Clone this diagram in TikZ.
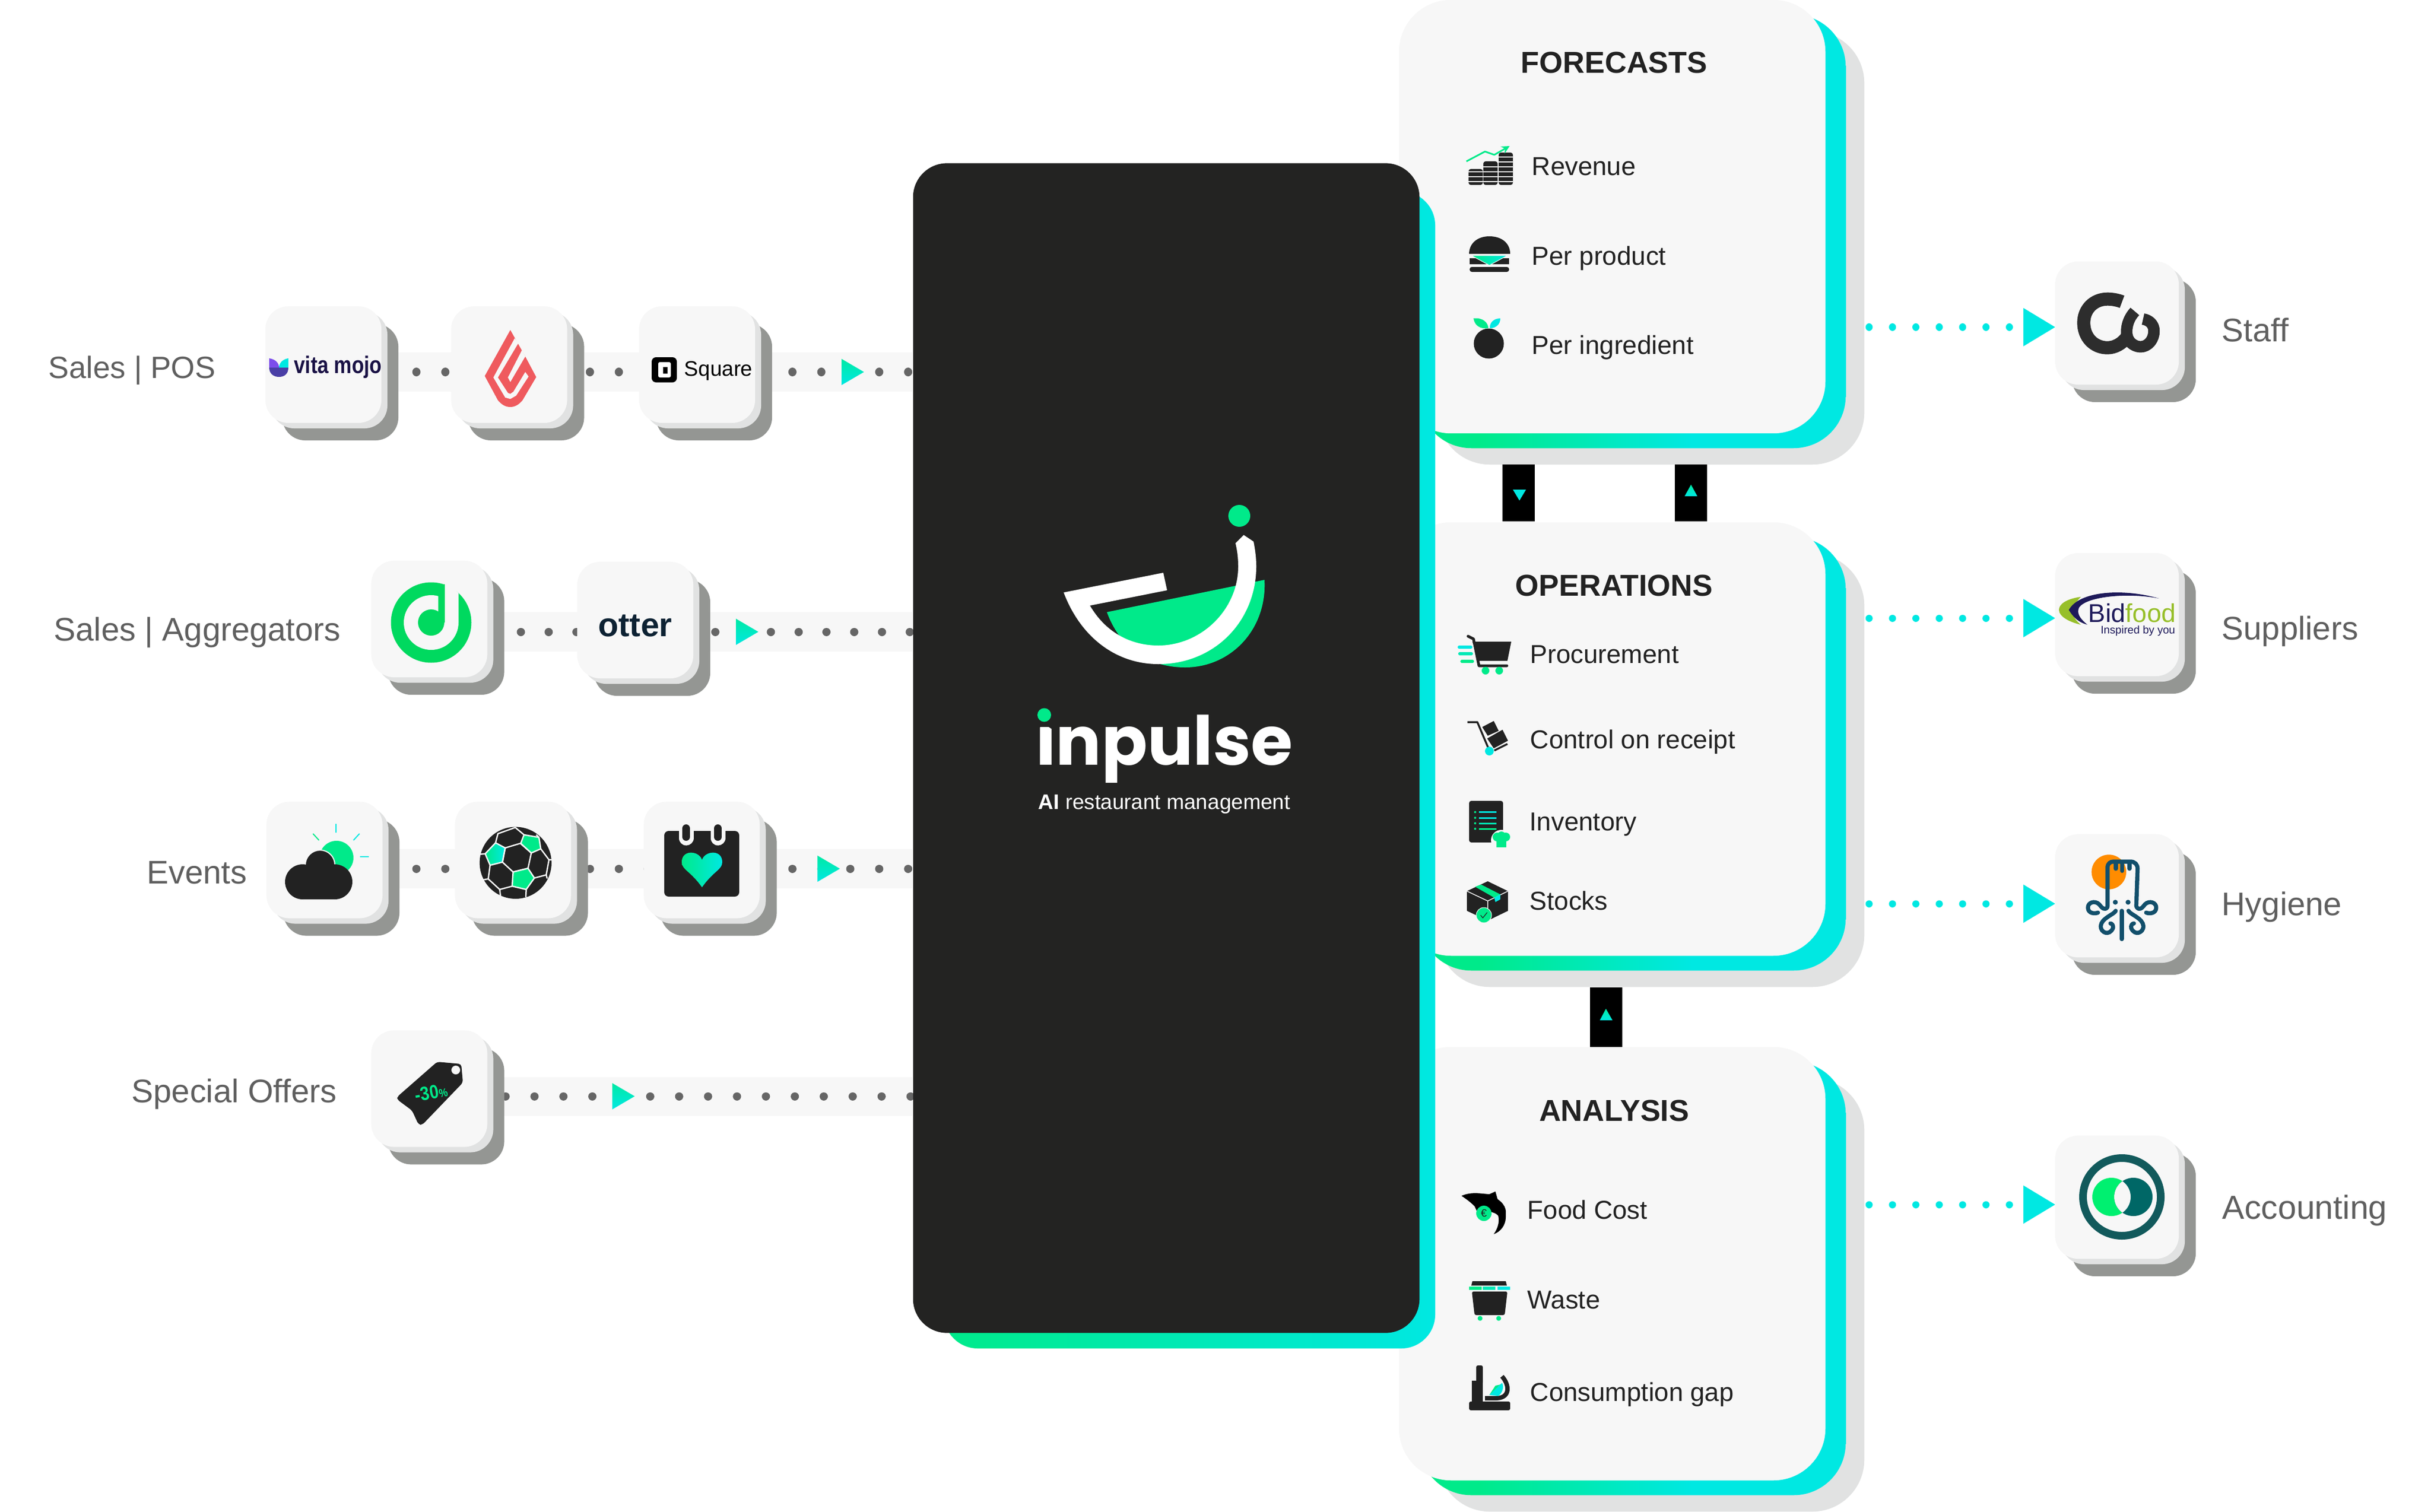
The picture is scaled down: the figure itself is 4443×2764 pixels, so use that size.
\documentclass[tikz,border=0pt]{standalone}
\usepackage{fontspec}
\setmainfont{Liberation Sans}
\newfontfamily\logofont{Poppins}
\usetikzlibrary{shadows}
\definecolor{accentgreen}{HTML}{00EA8A}
\definecolor{accentcyan}{HTML}{00E8E2}
\definecolor{ink}{HTML}{222222}
\definecolor{panelink}{HTML}{232322}
\definecolor{labelgrey}{HTML}{5F5F5F}
\definecolor{cardfill}{HTML}{F7F7F7}
\definecolor{cardgrey}{HTML}{E1E2E2}
\definecolor{tiledark}{HTML}{949693}
\definecolor{dotgrey}{HTML}{666666}
\definecolor{bidlime}{HTML}{97BF2A}
\definecolor{bidnavy}{HTML}{1E1A5A}
\definecolor{octoteal}{HTML}{124F6B}
\definecolor{roogreen}{HTML}{00D95F}
\definecolor{flamered}{HTML}{EF5A5E}
\definecolor{ringteal}{HTML}{125A5C}
\definecolor{lensteal}{HTML}{006766}
\definecolor{lensgreen}{HTML}{00F070}
\definecolor{vitanavy}{HTML}{1A1245}
\definecolor{vitaviolet}{HTML}{7C4DEB}
\definecolor{vitablue}{HTML}{4A3FA6}
\definecolor{otternavy}{HTML}{0D2233}
\pgfdeclarelayer{links}
\pgfsetlayers{links,main}
\pgfdeclarehorizontalshading{cardfade}{100bp}{color(0bp)=(accentgreen); color(32bp)=(accentgreen); color(57bp)=(accentcyan); color(100bp)=(accentcyan)}
\tikzset{
  tilebox/.style={minimum width=2.12cm, minimum height=2.13cm, inner sep=0pt, rounded corners=0.42cm, fill=cardfill,
    general shadow={fill=tiledark, shadow xshift=0.31cm, shadow yshift=-0.32cm},
    general shadow={fill=cardgrey, shadow xshift=0.11cm, shadow yshift=-0.10cm}},
  bigtile/.style={tilebox, minimum width=2.26cm, minimum height=2.25cm},
  cardbox/.style={minimum width=7.79cm, minimum height=7.92cm, inner sep=0pt, rounded corners=0.95cm, fill=cardfill,
    general shadow={fill=cardgrey, shadow xshift=0.71cm, shadow yshift=-0.57cm},
    general shadow={shading=cardfade, shadow xshift=0.37cm, shadow yshift=-0.27cm}},
  flowband/.style={cardfill, line width=0.71cm},
  flowdots/.style={dotgrey, line width=0.15cm, line cap=round, dash pattern=on 0.01pt off 0.528cm},
  staffdots/.style={accentcyan, line width=0.13cm, line cap=round, dash pattern=on 0.01pt off 0.4267cm},
  tipfade/.style={top color=accentgreen!70!accentcyan, bottom color=accentcyan},
  linkbox/.style={minimum width=0.59cm, inner sep=0pt, fill=black},
  rowlabel/.style={anchor=base west, inner sep=0pt, text=labelgrey, font=\fontsize{17}{20}\selectfont},
  cardtitle/.style={inner sep=0pt, text=ink, font=\bfseries\fontsize{15.7}{18}\selectfont},
  itemlabel/.style={anchor=base west, inner sep=0pt, text=ink, font=\fontsize{13.5}{16}\selectfont},
  ballline/.style={cardfill, line width=0.025cm},
  octoline/.style={octoteal, line width=0.075cm, line cap=round},
}
\begin{document}
\begin{tikzpicture}[x=0.01cm, y=-0.01cm, line join=round, >=stealth]
  \useasboundingbox (0,0) rectangle (4443,2764);
  % cards on the right
  \node[cardbox] (forecasts) at (2946.5,396) {};
  \node[cardbox] (operations) at (2946.5,1351) {};
  \node[cardbox] (analysis) at (2946.5,2310) {};
  \node[linkbox, minimum height=1.04cm] (boxdown) at (2775.5,901) {};
  \node[linkbox, minimum height=1.04cm] (boxup) at (3090.5,901) {};
  \node[linkbox, minimum height=1.09cm] (boxlow) at (2935,1859.5) {};
  \fill[accentcyan] (2765,895) -- (2789,895) -- (2777,915) -- cycle;
  \shade[tipfade] (3079,907) -- (3102,907) -- (3090.5,886) -- cycle;
  \shade[tipfade] (2924,1865) -- (2947,1865) -- (2935,1844) -- cycle;
  % main panel
  \shade[left color=accentgreen, right color=accentcyan, rounded corners=0.62cm] (1725,350) rectangle (2623,2465);
  \node[minimum width=9.25cm, minimum height=21.37cm, inner sep=0pt, rounded corners=0.62cm, fill=panelink] (panel) at (2131.5,1367.5) {};
  % logo
  \fill[accentgreen] (2265,943) circle (20);
  \fill[accentgreen] (2023,1119) -- (2311,1060) .. controls (2316,1150) and (2250,1220) .. (2166,1220) .. controls (2095,1220) and (2045,1180) .. (2023,1119) -- cycle;
  \fill[white] (1944,1083) .. controls (1975,1165) and (2040,1214) .. (2117,1214) .. controls (2220,1214) and (2296,1135) .. (2296,1035) .. controls (2296,1020) and (2294,1005) .. (2291,990) -- (2273,978) -- (2258,993) .. controls (2261,1005) and (2263,1020) .. (2263,1035) .. controls (2263,1115) and (2195,1180) .. (2117,1180) .. controls (2065,1180) and (2020,1155) .. (1992,1107) -- (2133,1079) -- (2126,1047) -- cycle;
  \node[anchor=base, inner sep=0pt, text=white, font=\logofont\bfseries\fontsize{35.2}{40}\selectfont] (brand) at (2128,1398) {inpulse};
  \fill[panelink] (1890,1288) rectangle (1930,1325);
  \fill[panelink] (1892,1324) -- (1909,1324) -- (1892,1335) -- cycle (1926,1324) -- (1909,1324) -- (1926,1335) -- cycle;
  \fill[accentgreen] (1908.5,1307) circle (12.5);
  \node[anchor=base, inner sep=0pt, text=white, font=\fontsize{11}{13}\selectfont] (tagline) at (2128,1479) {\textbf{AI} restaurant management};
  % titles and items
  \node[cardtitle] (forecaststitle) at (2950,115) {FORECASTS};
  \node[cardtitle] (operationstitle) at (2950,1070) {OPERATIONS};
  \node[cardtitle] (analysistitle) at (2950,2030) {ANALYSIS};
  \node[itemlabel] (revenue) at (2799,321) {Revenue};
  \node[itemlabel] (perproduct) at (2799,485) {Per product};
  \node[itemlabel] (peringredient) at (2799,647) {Per ingredient};
  \node[itemlabel] (procurement) at (2796,1212) {Procurement};
  \node[itemlabel] (control) at (2796,1368) {Control on receipt};
  \node[itemlabel] (inventory) at (2795,1518) {Inventory};
  \node[itemlabel] (stocks) at (2795,1663) {Stocks};
  \node[itemlabel] (foodcost) at (2791,2228) {Food Cost};
  \node[itemlabel] (waste) at (2791,2392) {Waste};
  \node[itemlabel] (gap) at (2796,2561) {Consumption gap};
  % card icons
  \foreach \sx/\sy/\sn in {2684/309/2,2711/295/3,2739/279/5} {
    \fill[ink, rounded corners=0.04cm] (\sx,\sy) rectangle (\sx+26,338);
    \foreach \ly in {0,...,\sn}
      \draw[cardfill, line width=0.02cm] (\sx,332-9*\ly) -- (\sx+26,332-9*\ly);
  }
  \draw[->, accentgreen, line width=0.03cm] (2680,295) -- (2714,277) -- (2731,283) -- (2759,267);
  \fill[ink] (2685,464) .. controls (2685,445) and (2700,432) .. (2722,432) .. controls (2745,432) and (2760,445) .. (2760,464) -- cycle;
  \fill[ink] (2686,472) rectangle (2758,483);
  \fill[ink, rounded corners=0.04cm] (2686,488) rectangle (2758,497);
  \shade[left color=accentgreen, right color=accentcyan, draw=cardfill, line width=0.01cm] (2689,467) -- (2755,467) -- (2722,485) -- cycle;
  \fill[ink] (2721,628) circle (27.5);
  \fill[accentgreen] (2693,582) .. controls (2710,580) and (2720,590) .. (2720,600) .. controls (2705,602) and (2695,595) .. (2693,582) -- cycle;
  \fill[accentcyan] (2742,582) .. controls (2730,582) and (2722,590) .. (2723,600) .. controls (2735,600) and (2742,592) .. (2742,582) -- cycle;
  \fill[ink] (2691,1173) -- (2762,1173) -- (2755,1208) -- (2703,1208) -- cycle;
  \draw[ink, line width=0.05cm, line cap=round] (2683,1163) -- (2693,1168) -- (2703,1217) -- (2754,1217);
  \fill[accentgreen] (2715,1226) circle (7) (2740,1226) circle (7);
  \draw[accentcyan, line width=0.06cm, line cap=round] (2667,1183) -- (2688,1183);
  \draw[accentcyan!50!accentgreen, line width=0.06cm, line cap=round] (2668,1195) -- (2689,1195);
  \draw[accentgreen, line width=0.06cm, line cap=round] (2672,1209) -- (2691,1209);
  \draw[ink, line width=0.035cm] (2682,1320) -- (2700,1320) -- (2722,1372);
  \fill[ink] (2709,1329) -- (2730,1318) -- (2739,1336) -- (2719,1345) -- cycle;
  \fill[ink] (2718,1350) -- (2746,1334) -- (2756,1354) -- (2730,1368) -- cycle;
  \draw[ink, line width=0.035cm] (2731,1372) -- (2755,1360);
  \fill[accentcyan] (2722,1373) circle (8);
  \fill[ink, rounded corners=0.04cm] (2685,1464) rectangle (2747,1540);
  \foreach \ly/\lc in {1484.5/accentcyan,1495/accentcyan,1505/accentcyan!50!accentgreen,1515/accentgreen} {
    \draw[\lc, line width=0.03cm] (2703,\ly) -- (2735,\ly);
    \fill[accentgreen] (2696,\ly) circle (2);
  }
  \fill[cardfill] (2744,1536) circle (19);
  \fill[accentgreen] (2736,1530) circle (8) (2752,1530) circle (8) (2744,1528) circle (8);
  \fill[accentgreen] (2735,1532) rectangle (2753,1549);
  \fill[ink] (2719,1611) -- (2756,1629) -- (2756,1665) -- (2719,1683) -- (2681,1665) -- (2681,1629) -- cycle;
  \draw[cardfill, line width=0.015cm] (2681,1629) -- (2719,1647) -- (2756,1629) (2719,1647) -- (2719,1683);
  \fill[accentgreen] (2696,1621) -- (2707,1617) -- (2742,1635) -- (2731,1641) -- cycle;
  \fill[accentcyan] (2731,1641) -- (2742,1635) -- (2742,1644) -- (2733,1649) -- cycle;
  \fill[accentgreen, draw=cardfill, line width=0.01cm] (2712,1673) circle (14);
  \draw[ink, line width=0.012cm] (2706,1673) -- (2710,1678) -- (2718,1668);
  \fill[black] (2671,2186) .. controls (2690,2178) and (2705,2182) .. (2722,2183) -- (2733,2178) -- (2737,2192) .. controls (2755,2205) and (2752,2215) .. (2752,2225) .. controls (2752,2240) and (2742,2252) .. (2730,2256) .. controls (2738,2245) and (2741,2232) .. (2738,2222) .. controls (2730,2214) and (2718,2214) .. (2700,2216) -- (2695,2205) .. controls (2688,2198) and (2680,2192) .. (2671,2186) -- cycle;
  \fill[accentgreen] (2712,2218) circle (14);
  \node[inner sep=0pt, text=ink, font=\fontsize{5.5}{6}\selectfont] (eurocoin) at (2712,2218) {€};
  \fill[ink] (2691,2342) -- (2752,2342) -- (2754,2350) -- (2689,2350) -- cycle;
  \foreach \wx/\wc in {2685/accentgreen,2710/accentgreen!50!accentcyan,2737/accentcyan}
    \fill[\wc] (\wx,2352) rectangle (\wx+23,2358);
  \fill[ink, rounded corners=0.03cm] (2690,2361) -- (2755,2361) -- (2750,2404) -- (2695,2404) -- cycle;
  \fill[accentgreen] (2705,2410) circle (4.5) (2739,2410) circle (4.5);
  \fill[ink, rounded corners=0.03cm] (2685,2562) rectangle (2760,2578);
  \fill[ink] (2690,2524) rectangle (2710,2562);
  \fill[ink, rounded corners=0.03cm] (2698,2496) rectangle (2710,2530);
  \draw[ink, line width=0.08cm] (2745,2516) .. controls (2758,2530) and (2762,2555) .. (2735,2556) -- (2714,2556);
  \fill[accentcyan] (2722,2550) -- (2745,2528) .. controls (2750,2535) and (2745,2548) .. (2738,2552) -- cycle;
  \fill[accentgreen] (2722,2550) -- (2733,2533) -- (2742,2531) -- cycle;
  % tiles on the left
  \node[tilebox] (vitamojo) at (591,666.5) {};
  \node[tilebox] (lightspeed) at (930.5,666.5) {};
  \node[tilebox] (square) at (1274,666.5) {};
  \node[tilebox] (deliveroo) at (784.5,1131.5) {};
  \node[tilebox] (otter) at (1161,1133.5) {};
  \node[tilebox] (weather) at (593,1572) {};
  \node[tilebox] (football) at (937.5,1572) {};
  \node[tilebox] (calendar) at (1282.5,1572) {};
  \node[tilebox] (offers) at (784.5,1990) {};
  % tiles on the right
  \node[bigtile] (staff) at (3869,590.5) {};
  \node[bigtile] (suppliers) at (3869,1123.5) {};
  \node[bigtile] (hygiene) at (3869,1637.5) {};
  \node[bigtile] (accounting) at (3869,2188.5) {};
  % row labels
  \node[rowlabel, font=\fontsize{16}{20}\selectfont] (salespos) at (88,691) {Sales | POS};
  \node[rowlabel] (salesaggregators) at (98,1171) {Sales | Aggregators};
  \node[rowlabel] (events) at (268,1615) {Events};
  \node[rowlabel] (specialoffers) at (240,2015) {Special Offers};
  \node[rowlabel] (stafflabel) at (4060,624) {Staff};
  \node[rowlabel] (supplierslabel) at (4060,1169) {Suppliers};
  \node[rowlabel] (hygienelabel) at (4060,1673) {Hygiene};
  \node[rowlabel, font=\fontsize{17.3}{20}\selectfont] (accountinglabel) at (4061,2228) {Accounting};
  % links under the tiles
  \coordinate (posflow) at (761,680);
  \coordinate (aggflow) at (952,1155);
  \coordinate (eventflow) at (761,1588);
  \coordinate (offerflow) at (924,2004);
  \coordinate (staffflow) at (3416,598);
  \coordinate (supplierflow) at (3416,1130);
  \coordinate (hygieneflow) at (3416,1652);
  \coordinate (accountflow) at (3416,2202);
  \begin{pgfonlayer}{links}
    \draw[flowband] (vitamojo.center |- posflow) -- (posflow -| panel.west);
    \draw[flowband] (deliveroo.center |- aggflow) -- (aggflow -| panel.west);
    \draw[flowband] (weather.center |- eventflow) -- (eventflow -| panel.west);
    \draw[flowband] (offers.center |- offerflow) -- (offerflow -| panel.west);
    \draw[flowdots] (posflow) -- (posflow -| panel.west);
    \draw[flowdots, dash pattern=on 0.01pt off 0.507cm] (aggflow) -- (aggflow -| panel.west);
    \draw[flowdots] (eventflow) -- (eventflow -| panel.west);
    \draw[flowdots] (offerflow) -- (offerflow -| panel.west);
    \draw[staffdots] (staffflow) -- (staffflow -| staff.west);
    \draw[staffdots] (supplierflow) -- (supplierflow -| suppliers.west);
    \draw[staffdots] (hygieneflow) -- (hygieneflow -| hygiene.west);
    \draw[staffdots] (accountflow) -- (accountflow -| accounting.west);
    \foreach \tx/\ty in {1538/680,1345/1155,1494/1588,1119/2004}
      \shade[tipfade] (\tx,\ty-24) -- (\tx+41,\ty) -- (\tx,\ty+24) -- cycle;
    \foreach \ty in {598,1130,1652,2202}
      \fill[accentcyan] (3698,\ty-35) -- (3756,\ty) -- (3698,\ty+35) -- cycle;
  \end{pgfonlayer}
  % vita mojo
  \fill[vitaviolet] (492,655) .. controls (505,657) and (510,665) .. (510,672) -- (492,672) -- cycle;
  \fill[accentcyan] (527,655) .. controls (515,657) and (510,665) .. (510,672) -- (527,672) -- cycle;
  \fill[vitablue] (492,672) -- (527,672) .. controls (527,683) and (520,689) .. (510,689) .. controls (500,689) and (492,683) .. (492,672) -- cycle;
  \node[anchor=west, inner sep=0pt, text=vitanavy, font=\bfseries\fontsize{12.5}{14}\selectfont] (vitatext) at (537,671) {\scalebox{0.83}[1]{vita mojo}};
  % lightspeed
  \fill[flamered] (932.7,603.3) -- (960,651.7) -- (980,689.3) -- (955,731.7) .. controls (948,740) and (941,744) .. (932.7,744) .. controls (924,744) and (917,740) .. (910,731.7) -- (886,687.3) -- cycle;
  \fill[cardfill] (940.7,618.3) -- (901.7,690) -- (923.3,726.7) -- (932.7,729.3) -- (943.3,723.3) -- (966,688.3) -- (960,680) -- (938.3,716) -- (932.7,720) -- (928.3,718.3) -- (910,690) -- (947.3,627.3) -- cycle;
  \fill[cardfill] (954,640) -- (928.3,690) -- (932.7,698.3) -- (960,651.7) -- cycle;
  % square
  \fill[black, rounded corners=0.08cm] (1191,653) rectangle (1237,699);
  \fill[white, rounded corners=0.03cm] (1203,662) rectangle (1226,690);
  \fill[black] (1212,671) rectangle (1220,683);
  \node[anchor=west, inner sep=0pt, text=black, font=\fontsize{11}{13}\selectfont] (squaretext) at (1250,678) {Square};
  % deliveroo
  \fill[roogreen] (788,1138) circle (73.5);
  \fill[cardfill] (788,1138) circle (50);
  \fill[cardfill] (813,1060) -- (838,1084) -- (838,1138) -- (813,1138) -- cycle;
  \fill[roogreen] (801,1068) rectangle (813,1138);
  \fill[roogreen] (788,1138) circle (24);
  % otter
  \node[inner sep=0pt, text=otternavy, font=\bfseries\fontsize{17.3}{20}\selectfont] (ottertext) at (1161,1144) {otter};
  % weather
  \fill[accentgreen] (615,1568) circle (31);
  \draw[accentcyan, line width=0.02cm] (614,1506) -- (614,1522) (657,1524) -- (646,1536) (658,1566) -- (674,1566);
  \draw[accentgreen, line width=0.02cm] (572,1524) -- (583,1536);
  \fill[ink, draw=cardfill, line width=0.02cm] (585,1581) circle (27);
  \fill[ink] (553,1612) circle (32) (612,1612) circle (32) (585,1581) circle (25);
  \fill[ink] (553,1600) rectangle (612,1644);
  % football
  \fill[ink] (942.3,1577.3) circle (65.7);
  \draw[ballline] (905.7,1540.7) -- (910,1524) -- (941.7,1512.7) -- (957.7,1526);
  \draw[ballline] (886.7,1560.7) -- (876,1561.7) (895.7,1581.7) -- (892.3,1606.7) -- (913.3,1626) -- (936,1620) (892.3,1606.7) -- (883,1608.3) (913.3,1626) -- (915,1640) (961.7,1626) -- (961,1640);
  \draw[ballline] (976.7,1605) -- (998.3,1599.3) -- (1003.3,1571.7) -- (988.3,1551.7) (1003.3,1571.7) -- (1009,1571.7) (985,1530.7) -- (980,1526) (998.3,1599.3) -- (1000,1606);
  \draw[ballline] (923.3,1550) -- (951,1541.7) -- (971,1559.3) -- (965,1587.3) -- (937.7,1594) -- (918.3,1576) -- cycle;
  \fill[accentgreen, draw=cardfill, line width=0.025cm] (957.7,1526) -- (985,1530.7) -- (988.3,1551.7) -- (971,1559.3) -- (951.7,1541.7) -- cycle;
  \shade[left color=accentgreen, right color=accentcyan, draw=cardfill, line width=0.025cm] (905.7,1540.7) -- (923.3,1550) -- (918.3,1576) -- (895.7,1581.7) -- (886.7,1560.7) -- cycle;
  \fill[accentgreen, draw=cardfill, line width=0.025cm] (937.7,1594) -- (965,1587.3) -- (976.7,1605) -- (961.7,1626) -- (936,1620) -- cycle;
  % calendar
  \fill[ink, rounded corners=0.08cm] (1214,1519) rectangle (1351,1639);
  \foreach \rx in {1254,1312} {
    \draw[cardfill, line width=0.27cm, line cap=round] (\rx,1519) -- (\rx,1532);
    \draw[ink, line width=0.14cm, line cap=round] (\rx,1514) -- (\rx,1530);
  }
  \shade[left color=accentgreen, right color=accentcyan] (1283,1622) .. controls (1262,1592) and (1246,1590) .. (1246,1576) .. controls (1246,1552) and (1278,1555) .. (1283,1572) .. controls (1288,1555) and (1320,1552) .. (1320,1576) .. controls (1320,1590) and (1304,1592) .. (1283,1622) -- cycle;
  % price tag
  \fill[ink, rounded corners=0.05cm] (799,1941) -- (843,1945) -- (846,1979) -- (772,2056) -- (765,2056) -- (753,2030) -- (726,2010) -- (726,2005) -- cycle;
  \fill[cardfill] (833,1956) circle (8);
  \node[inner sep=0pt, rotate=10, text=accentgreen, font=\bfseries\fontsize{10}{12}\selectfont] (discount) at (788,1997) {\scalebox{0.85}[1]{-30{\fontsize{6}{7}\selectfont\%}}};
  % staff logo
  \draw[ink!95!white, line width=0.24cm] (3878.3,551.7) .. controls (3870,548.3) and (3860,546.7) .. (3851.7,546.7) .. controls (3826.7,546.7) and (3808.3,565) .. (3808.3,590) .. controls (3808.3,616.7) and (3826.7,635.7) .. (3851.7,635.7) .. controls (3865,635.7) and (3878.3,628.3) .. (3886.7,616.7);
  \draw[ink!95!white, line width=0.21cm] (3901.7,569.3) .. controls (3891.7,580) and (3886.7,593.3) .. (3886.7,606.7) .. controls (3886.7,623.3) and (3898.3,633.3) .. (3911.7,634) .. controls (3926.7,634) and (3936.7,620) .. (3936.7,605) .. controls (3936.7,593.3) and (3928.3,585) .. (3916.7,583.3);
  % bidfood
  \fill[bidlime] (3803,1091) .. controls (3775,1095) and (3763,1105) .. (3763,1115) .. controls (3763,1128) and (3785,1138) .. (3803,1142) .. controls (3788,1130) and (3780,1115) .. (3803,1091) -- cycle;
  \fill[bidnavy] (3946,1094) .. controls (3880,1075) and (3800,1080) .. (3781,1115) .. controls (3790,1130) and (3800,1138) .. (3815,1142) .. controls (3800,1130) and (3795,1120) .. (3800,1110) .. controls (3815,1090) and (3890,1083) .. (3946,1094) -- cycle;
  \node[anchor=west, inner sep=0pt, font=\fontsize{13.4}{15}\selectfont] (bidfoodtext) at (3816,1121) {\textcolor{bidnavy}{Bid}\textcolor{bidlime}{food}};
  \node[anchor=east, inner sep=0pt, text=bidnavy, font=\fontsize{5.7}{7}\selectfont] (bidfoodslogan) at (3976,1153) {Inspired by you};
  % hygiene logo
  \fill[orange!90!yellow] (3854.3,1594) circle (31.7);
  \draw[octoline] (3851.7,1656.7) -- (3851.7,1586.7) .. controls (3851.7,1578.3) and (3856.7,1575) .. (3863.3,1575) -- (3893.3,1575) .. controls (3901.7,1575) and (3906.7,1580) .. (3906.7,1588.3) -- (3904.3,1656.7);
  \foreach \dx/\dy in {3866.7/1588,3878.3/1592,3891.7/1588}
    \draw[octoline] (\dx,1577) -- (\dx,\dy);
  \draw[octoline] (3851.7,1658.3) .. controls (3846.7,1665) and (3841.7,1660) .. (3836.7,1653.3) .. controls (3828.3,1645) and (3815,1650) .. (3816,1660) .. controls (3816.7,1670) and (3828.3,1670.7) .. (3834.3,1668.3);
  \draw[octoline] (3905,1658.3) .. controls (3910,1665) and (3915,1660) .. (3920,1653.3) .. controls (3928.3,1645) and (3941.7,1650) .. (3940.7,1660) .. controls (3940,1670) and (3928.3,1670.7) .. (3922.3,1668.3);
  \draw[octoline] (3877.7,1665) -- (3877.7,1716.7);
  \draw[octoline] (3866.7,1665) .. controls (3864,1671.7) and (3840,1678.3) .. (3839.3,1693.3) .. controls (3839.3,1705) and (3855,1711.7) .. (3861.7,1696.7) .. controls (3862.7,1691.7) and (3860,1688.3) .. (3857,1688);
  \draw[octoline] (3890,1665) .. controls (3892.7,1671.7) and (3916.7,1678.3) .. (3917.4,1693.3) .. controls (3917.4,1705) and (3901.7,1711.7) .. (3895,1696.7) .. controls (3894,1691.7) and (3896.7,1688.3) .. (3900,1688);
  \fill[octoteal] (3866,1649.3) circle (4.5) (3889.3,1649.3) circle (4.5);
  % accounting logo
  \draw[ringteal, line width=0.14cm] (3878,2188) circle (71);
  \fill[lensgreen] (3859,2188) circle (35);
  \fill[lensteal] (3899,2188) circle (35);
  \begin{scope}
    \clip (3859,2188) circle (35);
    \fill[cardfill] (3899,2188) circle (35);
  \end{scope}
\end{tikzpicture}
\end{document}
